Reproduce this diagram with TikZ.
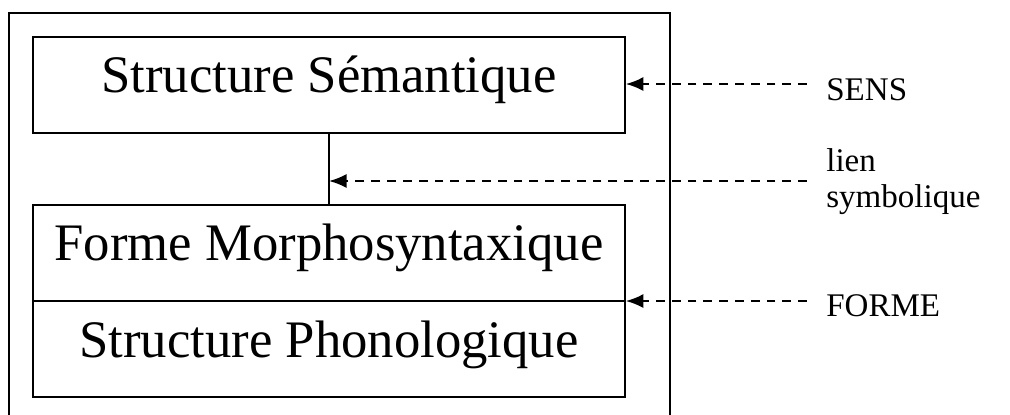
\documentclass[tikz,border=0pt]{standalone}
\usepackage{fontspec}
\setmainfont{Liberation Serif}
\usetikzlibrary{arrows.meta}
\tikzset{
    level-box/.style = {draw=black, line width=1pt, rectangle, minimum width=11.84cm, minimum height=1.92cm, inner sep=0pt},
    level-text/.style = {font=\fontsize{30}{36}\selectfont, inner sep=0pt, anchor=base},
    side-label/.style = {font=\fontsize{18.8}{20}\selectfont, align=left, inner sep=0pt, anchor=base west},
    dash-arrow/.style = {line width=1.1pt, dash pattern=on 5pt off 4pt, -{Latex[length=10pt,width=8pt]}},
}

\begin{document}
\begin{tikzpicture}[x=0.02cm, y=-0.02cm]
\clip (0,0) rectangle (1010,414);
% outer frame, runs past the lower edge
\draw[line width=1pt] (9,13) rectangle (670,440);

% the three levels
\node[level-box] (sem) at (329,85) {};
\node[level-box] (morph) at (329,253) {};
\node[level-box] (phon) at (329,349) {};
\node[level-text] (sem-text) at ([yshift=-0.15cm]sem.center) {Structure Sémantique};
\node[level-text] (morph-text) at ([yshift=-0.15cm]morph.center) {Forme Morphosyntaxique};
\node[level-text] (phon-text) at ([yshift=-0.17cm]phon.center) {Structure Phonologique};
\draw[line width=1pt] (sem.south) -- (morph.north);

% labels on the right
\node[side-label] (sens) at (826,100) {SENS};
\node[side-label] (lien) at (826,207) {lien\\symbolique};
\node[side-label] (forme) at (826,316) {FORME};

\coordinate (sens-tail) at (807,84);
\coordinate (lien-tail) at (807,181);
\coordinate (forme-tail) at (807,301);
\draw[dash-arrow] (sens-tail) -- (sens-tail -| sem.east);
\draw[dash-arrow] (lien-tail) -- (lien-tail -| sem.south);
\draw[dash-arrow] (forme-tail) -- (forme-tail -| morph.south east);
\end{tikzpicture}
\end{document}
